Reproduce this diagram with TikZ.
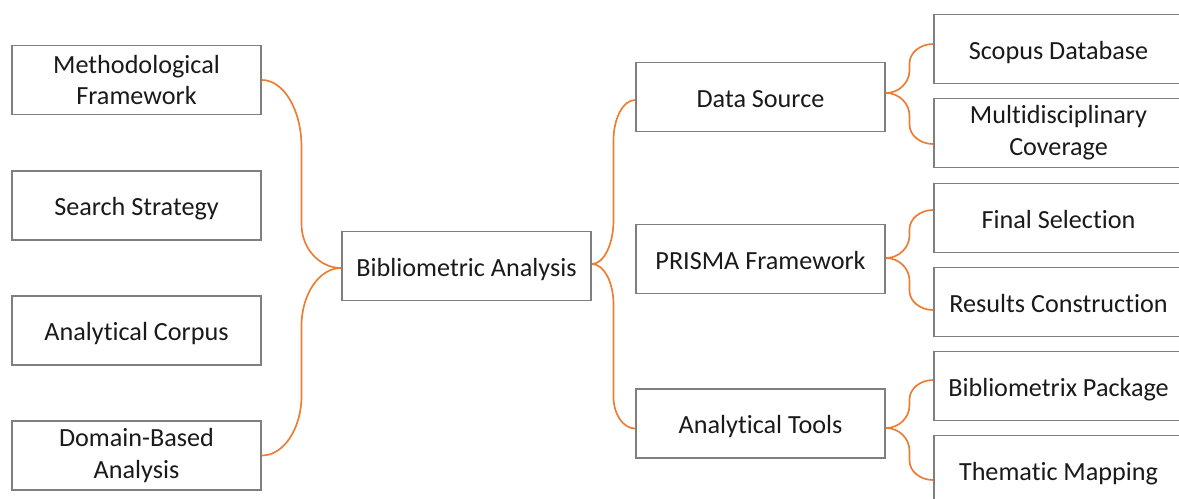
\documentclass[tikz,border=0pt]{standalone}
\usepackage{fontspec}
\setmainfont{Carlito}[Ligatures=NoCommon]
\usetikzlibrary{calc}
\definecolor{boxgray}{HTML}{7F7F7F}
\definecolor{connorange}{HTML}{ED7D31}
\definecolor{txt}{HTML}{1A1A1A}
\tikzset{
  topic/.style={draw=boxgray, line width=1.1pt, fill=white, minimum width=4.98cm, minimum height=1.38cm,
    inner sep=0pt, align=center, text=txt, font=\fontsize{14.9}{18.2}\selectfont},
  oneline/.style={topic, text height=11.8pt, text depth=0pt},
  conn/.style={draw=connorange, line width=0.95pt}
}
% bracket-like connector: from, to, vertical curve extent at start (pt), at end (pt)
\newcommand{\bconn}[4]{%
  \draw[conn] let \p1=(#1), \p2=(#2), \p3=($(\p1)!0.5!(\p2)$),
      \n1={ifthenelse(\y2>\y1,1,-1)*#3}, \n2={ifthenelse(\y2>\y1,1,-1)*#4} in
    (\p1) .. controls ({\x1+0.55*(\x3-\x1)},\y1) and (\x3,{\y1+0.45*\n1}) .. (\x3,{\y1+\n1})
    -- (\x3,{\y2-\n2}) .. controls (\x3,{\y2-0.45*\n2}) and ({\x2-0.55*(\x2-\x3)},\y2) .. (\p2);}
\begin{document}
\begin{tikzpicture}[x=0.02cm, y=-0.02cm]
\useasboundingbox (0,0) rectangle (1179,498);
\clip (0,0) rectangle (1179,498);
% left column
\node[topic] (meth) at (136.5,80) {Methodological\\Framework};
\node[oneline] (search) at (136.5,205.5) {Search Strategy};
\node[oneline] (corpus) at (136.5,330.5) {Analytical Corpus};
\node[topic] (domain) at (136.5,455.5) {Domain-Based\\Analysis};
% centre
\node[oneline] (bib) at (466.5,266) {Bibliometric Analysis};
% middle column
\node[oneline] (ds) at (760.5,97) {Data Source};
\node[oneline] (prisma) at (760.5,259) {PRISMA Framework};
\node[oneline] (tools) at (760.5,423.5) {Analytical Tools};
% right column
\node[oneline] (scopus) at (1058.5,49) {Scopus Database};
\node[topic] (multi) at (1058.5,133) {Multidisciplinary\\Coverage};
\node[oneline] (final) at (1058.5,218) {Final Selection};
\node[oneline] (results) at (1058.5,302) {Results Construction};
\node[oneline] (bmx) at (1058.5,386) {Bibliometrix Package};
\node[oneline] (thematic) at (1058.5,470) {Thematic Mapping};
% connection points
\coordinate (bibW) at ($(bib.west)+(0,2)$);
\coordinate (bibE) at ($(bib.east)+(0,-2)$);
\coordinate (dsW) at ($(ds.west)+(0,3)$);
\coordinate (toolsW) at ($(tools.west)+(0,5)$);
\coordinate (dsE) at ($(ds.east)+(0,-4)$);
\coordinate (prismaE) at ($(prisma.east)+(0,-1)$);
\coordinate (toolsE) at ($(tools.east)+(0,4.5)$);
\coordinate (scopusW) at ($(scopus.west)+(0,-5)$);
\coordinate (multiW) at ($(multi.west)+(0,11)$);
\coordinate (finalW) at ($(final.west)+(0,-8)$);
\coordinate (resultsW) at ($(results.west)+(0,8)$);
\coordinate (bmxW) at ($(bmx.west)+(0,-6)$);
\coordinate (thematicW) at ($(thematic.west)+(0,10)$);
% connectors
\bconn{meth.east}{bibW}{38}{25}
\bconn{domain.east}{bibW}{34}{33}
\bconn{bibE}{dsW}{25}{23}
\bconn{bibE}{toolsW}{23}{18}
\bconn{dsE}{scopusW}{13}{11}
\bconn{dsE}{multiW}{13}{11}
\bconn{prismaE}{finalW}{13}{11}
\bconn{prismaE}{resultsW}{13}{11}
\bconn{toolsE}{bmxW}{13}{11}
\bconn{toolsE}{thematicW}{13}{11}
\end{tikzpicture}
\end{document}
